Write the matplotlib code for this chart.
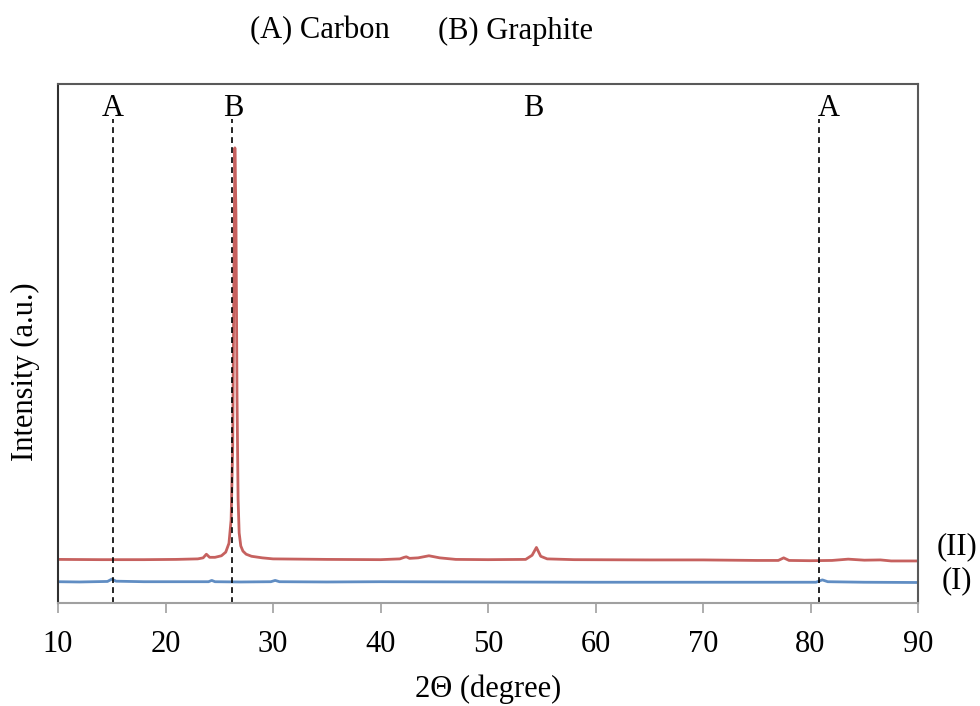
import matplotlib
matplotlib.use("Agg")
import matplotlib.pyplot as plt

plt.rcParams["font.family"] = ["Liberation Serif", "DejaVu Serif"]

# XRD pattern (II), red
red_tt = [10, 14, 18, 21, 23.0, 23.5, 23.8, 24.1, 24.6, 25.2, 25.6, 25.9, 26.1, 26.25,
          26.35, 26.45, 26.55, 26.65, 26.75, 26.85, 27.0, 27.2, 27.5, 28.0, 29.0, 30, 35,
          40, 41.8, 42.2, 42.4, 42.7, 43.5, 44.5, 45.5, 47, 50, 53.5, 54.1, 54.5, 54.9,
          55.5, 58, 65, 70, 75, 77.0, 77.5, 78.0, 80, 82, 83.5, 85, 86.5, 87.5, 90]
red_int = [8.4, 8.35, 8.35, 8.4, 8.5, 8.7, 9.4, 8.8, 8.8, 9.1, 9.8, 11.5, 16, 30,
           60, 87.7, 75, 40, 20, 13.5, 11.0, 10.0, 9.4, 9.0, 8.7, 8.5, 8.4,
           8.35, 8.5, 8.8, 8.9, 8.6, 8.7, 9.1, 8.7, 8.4, 8.35, 8.4, 9.2, 10.7, 9.0,
           8.5, 8.35, 8.3, 8.3, 8.2, 8.2, 8.7, 8.2, 8.15, 8.2, 8.45, 8.25, 8.3, 8.1, 8.1]

# XRD pattern (I), blue
blue_tt = [10, 12, 14.6, 15.0, 15.4, 18, 22, 24.0, 24.3, 24.6, 27, 29.8, 30.2, 30.6,
           35, 40, 50, 60, 70, 80.5, 81.1, 81.6, 85, 90]
blue_int = [4.1, 4.05, 4.15, 4.6, 4.2, 4.1, 4.1, 4.1, 4.35, 4.1, 4.05, 4.1, 4.35, 4.1,
            4.05, 4.1, 4.05, 4.0, 4.0, 4.0, 4.45, 4.1, 4.0, 3.95]

# reference peak markers
ref_lines = [15.1, 26.15, 80.8]
ref_labels = ["A", "B", "B", "A"]
ref_label_x = [15.1, 26.3, 54.2, 81.7]

fig = plt.figure(figsize=(9.8, 7.06), dpi=100)
ax = fig.add_axes([0.0592, 0.1459, 0.8776, 0.7351])

ax.plot(red_tt, red_int, color="#C0504D", lw=2.0, alpha=0.9)
ax.plot(blue_tt, blue_int, color="#4F81BD", lw=2.0, alpha=0.9)

for x in ref_lines:
    ax.plot([x, x], [0, 93.2], color="black", lw=1.2, ls=(0, (3.5, 2.5)))
for x, lab in zip(ref_label_x, ref_labels):
    ax.text(x, 95.2, lab, ha="center", va="center", fontsize=22)

ax.set_xlim(10, 90)
ax.set_ylim(0, 100)
ax.set_xticks(range(10, 91, 10))
ax.set_yticks([])
ax.tick_params(axis="x", direction="out", length=7.2, width=1.2, color="#A0A0A0",
               labelsize=22, pad=12)

for side in ["top", "right"]:
    ax.spines[side].set_color("#595959")
    ax.spines[side].set_linewidth(1.5)
ax.spines["left"].set_color("#303030")
ax.spines["left"].set_linewidth(1.5)
ax.spines["bottom"].set_color("#A0A0A0")
ax.spines["bottom"].set_linewidth(1.5)

ax.set_xlabel("2Θ (degree)", fontsize=22, va="center")
ax.xaxis.set_label_coords(0.5, -0.166)
ax.set_ylabel("Intensity (a.u.)", fontsize=22, va="center", ha="center")
ax.yaxis.set_label_coords(-0.038, 0.445)

# series labels at the right edge
fig.text(957 / 980, 1 - 547 / 706, "(II)", ha="center", va="center", fontsize=22)
fig.text(957 / 980, 1 - 581 / 706, "(I)", ha="center", va="center", fontsize=22)

# legend of phases
fig.text(320 / 980, 1 - 31 / 706, "(A) Carbon", ha="center", va="center", fontsize=22)
fig.text(515 / 980, 1 - 31 / 706, "(B) Graphite", ha="center", va="center", fontsize=22)

fig.savefig("out.png", dpi=100)
